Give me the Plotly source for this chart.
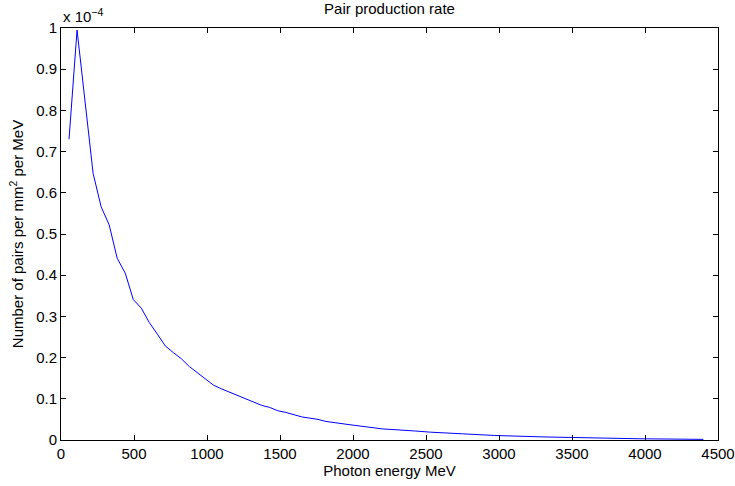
import plotly.graph_objects as go

# Photon energy (MeV) and pair production rate (units of 1e-4 pairs per mm^2 per MeV)
energy_mev = [55, 110, 220, 275, 330, 385, 440, 495, 550, 605, 660, 715, 770, 825,
              880, 935, 990, 1045, 1100, 1155, 1210, 1265, 1320, 1375, 1430, 1485,
              1540, 1595, 1650, 1705, 1760, 1815, 1870, 1980, 2090, 2200, 2420, 2530,
              2750, 2970, 3300, 3630, 3960, 4400]
rate_e4 = [0.730, 0.995, 0.647, 0.566, 0.522, 0.441, 0.405, 0.341, 0.320, 0.285,
           0.257, 0.228, 0.212, 0.197, 0.178, 0.163, 0.146, 0.133, 0.124, 0.116,
           0.107, 0.099, 0.092, 0.084, 0.079, 0.071, 0.067, 0.062, 0.056, 0.053,
           0.050, 0.045, 0.042, 0.037, 0.032, 0.027, 0.022, 0.019, 0.015, 0.011,
           0.0075, 0.0045, 0.003, 0.0015]

x_ticks = [0, 500, 1000, 1500, 2000, 2500, 3000, 3500, 4000, 4500]
y_ticks = [0, 0.1, 0.2, 0.3, 0.4, 0.5, 0.6, 0.7, 0.8, 0.9, 1]
y_tick_text = ["0", "0.1", "0.2", "0.3", "0.4", "0.5", "0.6", "0.7", "0.8", "0.9", "1"]

FONT = "Liberation Sans, Arial, sans-serif"

fig = go.Figure()
fig.add_trace(go.Scatter(x=energy_mev, y=rate_e4, mode="lines",
                         line=dict(color="#0000ff", width=1), showlegend=False))

axis_common = dict(showline=True, linecolor="black", linewidth=1, mirror="ticks",
                   ticks="inside", ticklen=5, tickcolor="black", showgrid=False,
                   zeroline=False, automargin=False,
                   tickfont=dict(family=FONT, size=15, color="black"))

fig.update_layout(
    width=735, height=486,
    margin=dict(l=61, r=17, t=28, b=46),
    paper_bgcolor="white", plot_bgcolor="white",
    title=dict(text="Pair production rate", x=0.5, xref="paper", xanchor="center",
               y=1, yref="container", yanchor="top", pad=dict(t=3),
               font=dict(family=FONT, size=15, color="black")),
    xaxis=dict(range=[0, 4500], tickvals=x_ticks,
               title=dict(text="Photon energy MeV", standoff=2,
                          font=dict(family=FONT, size=15, color="black")),
               **axis_common),
    yaxis=dict(range=[0, 1], tickvals=y_ticks, ticktext=y_tick_text,
               title=dict(text="Number of pairs per mm<sup>2</sup> per MeV", standoff=8,
                          font=dict(family=FONT, size=15, color="black")),
               **axis_common),
)

fig.add_annotation(text="x 10<sup>−4</sup>", xref="paper", yref="paper", x=0, y=1,
                   xanchor="left", yanchor="bottom", yshift=1, showarrow=False,
                   font=dict(family=FONT, size=15, color="black"))

fig.write_html("out.html")
